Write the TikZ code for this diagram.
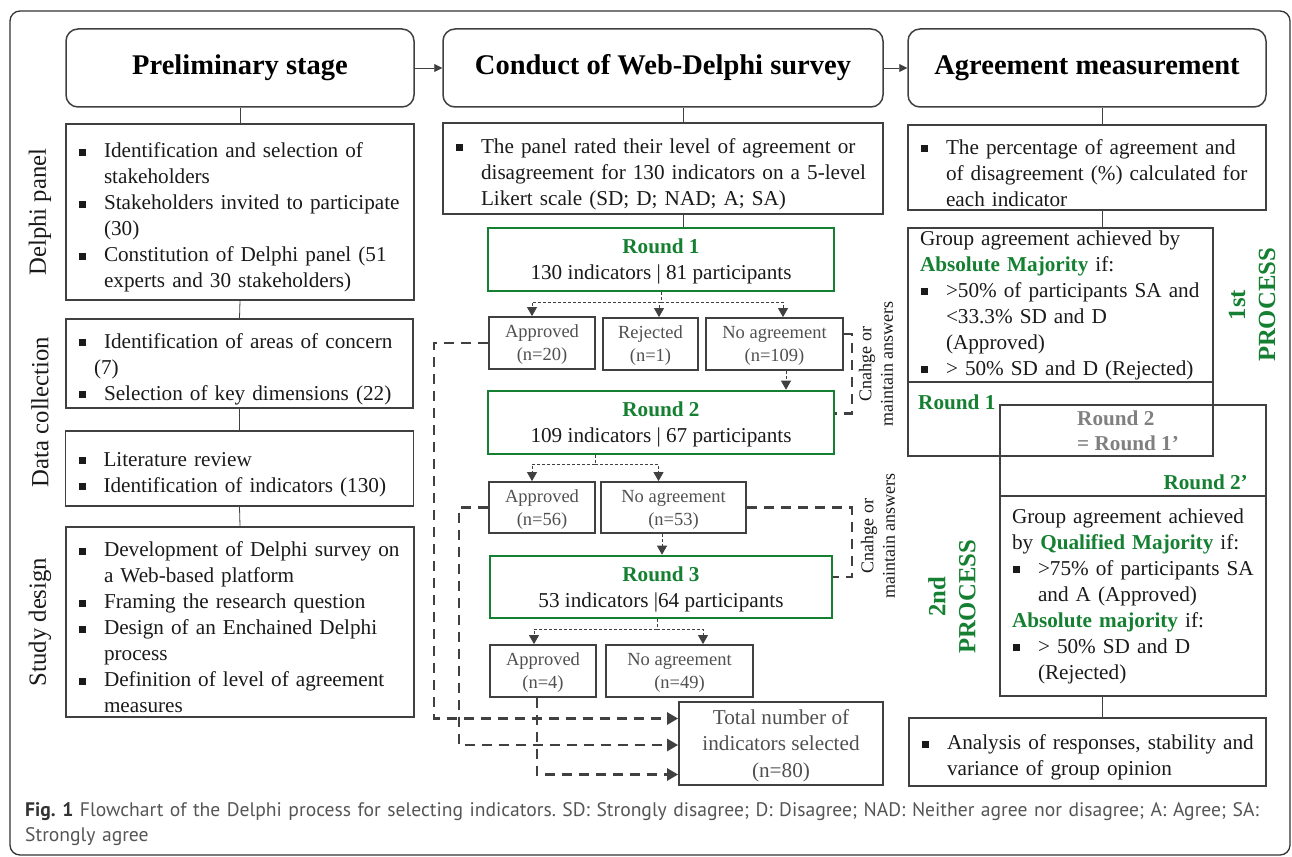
\documentclass[tikz,border=0pt]{standalone}
\usepackage{fontspec}
\setmainfont{Liberation Serif}
\newfontfamily\capfont{PT Sans}
\usetikzlibrary{arrows.meta}
\usetikzlibrary{positioning}
\setlength{\parskip}{0pt}

\definecolor{linegray}{RGB}{64,64,64}
\definecolor{txtgray}{RGB}{80,80,80}
\definecolor{softgray}{RGB}{128,128,128}
\definecolor{rndgreen}{RGB}{22,128,50}
\definecolor{capgray}{RGB}{85,85,85}
\definecolor{inkblack}{RGB}{26,26,26}

\newcommand{\itm}[1]{\par\rightskip=0pt plus 1fil minus 40pt\hyphenpenalty=10000
  \hangindent=26pt\hangafter=1\noindent
  \makebox[26pt][l]{\hspace{1pt}\rule[2pt]{7pt}{7pt}}{\let\\\break#1}\par}
\newcommand{\grn}[1]{\textcolor{rndgreen}{\textbf{#1}}}

\begin{document}
\begin{tikzpicture}[x=1pt,y=-1pt,
    head/.style={draw=linegray,line width=1.5pt,rounded corners=12pt,minimum height=78,
                 text=black,font=\fontsize{28.5}{34}\selectfont\bfseries},
    box/.style={draw=linegray,line width=1.8pt,inner xsep=12pt,inner ysep=0pt,align=left,
                text=inkblack,font=\fontsize{21.2}{26}\selectfont},
    rnd/.style={draw=rndgreen,line width=2.6pt,align=center,text=inkblack,text depth=-2.5pt,
                font=\fontsize{21.2}{26}\selectfont},
    small/.style={draw=linegray,line width=1.8pt,align=center,text=txtgray,text depth=-2.5pt,
                  font=\fontsize{18.5}{23}\selectfont},
    side/.style={rotate=90,text=inkblack,font=\fontsize{24.7}{30}\selectfont},
    proc/.style={rotate=90,align=center,text=rndgreen,font=\fontsize{24.7}{30}\selectfont\bfseries},
    chg/.style={rotate=90,align=center,text=inkblack,font=\fontsize{18}{21.5}\selectfont},
    conn/.style={draw=linegray,line width=0.8pt},
    tip/.style={-{Triangle[length=9pt,width=10pt]}},
    tdash/.style={draw=linegray,line width=0.8pt,dash pattern=on 3pt off 2pt},
    kdash/.style={draw=linegray,line width=2.6pt,dash pattern=on 10pt off 7pt,
                  -{Triangle[length=11pt,width=12pt]}}]
\useasboundingbox (0,0) rectangle (1292,856);
\draw[draw=black!80,line width=1.3pt,rounded corners=10pt] (10,11) rectangle (1290,855);

% stage headers
\node[head,minimum width=348] (hprelim) at (240,68) {Preliminary stage};
\node[head,minimum width=440] (hsurvey) at (663,68) {Conduct of Web-Delphi survey};
\node[head,minimum width=358] (hagree) at (1087,68) {Agreement measurement};
\draw[conn,-{Triangle[length=8pt,width=8pt]}] (hprelim.east) -- (hsurvey.west);
\draw[conn,-{Triangle[length=8pt,width=8pt]}] (hsurvey.east) -- (hagree.west);

% preliminary stage
\node[box,text width=324,minimum height=176] (panel) at (240,212) {%
  \itm{Identification and selection of\\stakeholders}
  \itm{Stakeholders invited to participate\\(30)}
  \itm{Constitution of Delphi panel (51\\experts and 30 stakeholders)}};
\node[box,text width=323,minimum height=89] (areas) at (239.5,363.5) {%
  \itm{Identification of areas of concern\\\hspace*{-10pt}(7)}
  \itm{Selection of key dimensions (22)}};
\node[box,text width=324,minimum height=75] (review) at (239.5,468.5) {%
  \itm{Literature review}
  \itm{Identification of indicators (130)}};
\node[box,text width=324,minimum height=190] (design) at (240,622) {%
  \itm{Development of Delphi survey on\\a Web-based platform}
  \itm{Framing the research question}
  \itm{Design of an Enchained Delphi\\process}
  \itm{Definition of level of agreement\\measures}};
\node[side] (lpanel) at (40,212) {Delphi panel};
\node[side] (lcollect) at (40,412) {Data collection};
\node[side] (ldesign) at (40,622) {Study design};
\draw[conn] (hprelim.south) -- (panel.north);
\draw[conn] (panel.south) -- (areas.north);
\draw[conn] (areas.south) -- (review.north);
\draw[conn] (review.south) -- (design.north);

% web-delphi survey
\node[box,text width=416,minimum height=91] (survey) at (663,168.5) {%
  \itm{The panel rated their level of agreement or\\disagreement for 130 indicators on a 5-level\\Likert scale (SD; D; NAD; A; SA)}};
\node[rnd,minimum width=346,minimum height=63] (r1) at (661,259.5)
  {\grn{Round 1}\\130 indicators | 81 participants};
\node[small,minimum width=106,minimum height=52] (app1) at (542,343) {Approved\\(n=20)};
\node[small,minimum width=95,minimum height=52] (rej1) at (650.5,344) {Rejected\\(n=1)};
\node[small,minimum width=137,minimum height=52] (noa1) at (774.5,344) {No agreement\\(n=109)};
\node[rnd,minimum width=346,minimum height=63] (r2) at (661,422.5)
  {\grn{Round 2}\\109 indicators | 67 participants};
\node[small,minimum width=106,minimum height=51] (app2) at (542,507.5) {Approved\\(n=56)};
\node[small,minimum width=145,minimum height=51] (noa2) at (673.5,507.5) {No agreement\\(n=53)};
\node[rnd,minimum width=342,minimum height=62] (r3) at (661,587)
  {\grn{Round 3}\\53 indicators |64 participants};
\node[small,minimum width=106,minimum height=52] (app3) at (543,671) {Approved\\(n=4)};
\node[small,minimum width=147,minimum height=52] (noa3) at (679.5,671) {No agreement\\(n=49)};
\node[small,minimum width=204,minimum height=83,font=\fontsize{21.2}{26.5}\selectfont] (total) at (781,743.5)
  {Total number of\\indicators selected\\(n=80)};
\node[chg] (chg1) at (876,364) {Cnahge or\\maintain answers};
\node[chg] (chg2) at (878,536) {Cnahge or\\maintain answers};

\draw[conn] ([xshift=20pt]hsurvey.south) -- ([xshift=20pt]survey.north);
\draw[conn] ([xshift=20pt]survey.south) -- ([xshift=22pt]r1.north);
\draw[tdash] (r1.south) -- ++(0,10) coordinate (bus1);
\draw[tdash,tip] (bus1) -| ([xshift=-10pt]app1.north);
\draw[tdash,tip] (bus1) -| ([xshift=8.5pt]rej1.north);
\draw[tdash,tip] (bus1) -| ([xshift=8.5pt]noa1.north);
\draw[tdash,tip] ([xshift=11.5pt]noa1.south) -- ([xshift=125pt]r2.north);
\draw[tdash] ([xshift=-66pt]r2.south) -- ++(0,9) coordinate (bus2);
\draw[tdash,tip] (bus2) -| ([xshift=-10pt]app2.north);
\draw[tdash,tip] (bus2) -| ([xshift=-15pt]noa2.north);
\draw[tdash,tip] ([xshift=-11.5pt]noa2.south) -- ([xshift=1pt]r3.north);
\draw[tdash] ([xshift=-4pt]r3.south) -- ++(0,10) coordinate (bus3);
\draw[tdash,tip] (bus3) -| ([xshift=-9pt]app3.north);
\draw[tdash,tip] (bus3) -| ([xshift=23.5pt]noa3.north);
\draw[kdash,-] ([yshift=10pt]noa1.east) -- ++(8,0) |- ([yshift=9pt]r2.east);
\draw[kdash,-] (noa2.east) -- ++(105,0) |- ([yshift=10pt]r3.east);
\draw[kdash] (app1.west) -- ++(-54,0) |- ([yshift=25pt]total.west);
\draw[kdash] (app2.west) -- ++(-29,0) |- ([yshift=-1.5pt]total.west);
\draw[kdash] ([xshift=-6pt]app3.south) |- ([yshift=-31pt]total.west);

% agreement measurement
\node[box,text width=334,minimum height=85] (pct) at (1087,167.5) {%
  \itm{The percentage of agreement and\\of disagreement (\%) calculated for\\each indicator}};
\node[box,text width=281,minimum height=154] (p1top) at (1060.5,305) {%
  Group agreement achieved by\break\grn{Absolute Majority} if:
  \itm{>50\% of participants SA and\\<33.3\% SD and D\\(Approved)}
  \itm{> 50\% SD and D (Rejected)}};
\node[box,minimum width=305,minimum height=74] (p1low) at (1060.5,419) {};
\node[anchor=west,inner sep=0pt,font=\fontsize{21.2}{26}\selectfont] (lr1) at (918,402) {\grn{Round 1}};
\node[box,minimum width=266,minimum height=91] (p2top) at (1133,450.5) {};
\node[anchor=west,inner sep=0pt,align=left,text=softgray,font=\fontsize{21.2}{25}\selectfont\bfseries] (lr2) at (1077,430.5)
  {Round 2\\= Round 1’};
\node[anchor=east,inner sep=0pt,font=\fontsize{21.2}{26}\selectfont] (lr2b) at (1248,482) {\grn{Round 2’}};
\node[box,text width=242,minimum height=200] (p2) at (1133,596) {%
  Group agreement achieved\break by \grn{Qualified Majority} if:
  \itm{>75\% of participants SA\\and A (Approved)}
  \noindent\grn{Absolute majority} if:
  \itm{> 50\% SD and D\\(Rejected)}};
\node[box,text width=333,minimum height=68] (analysis) at (1087.5,752) {%
  \itm{Analysis of responses, stability and\\variance of group opinion}};
\node[proc] (proc1) at (1252,305) {1st\\PROCESS};
\node[proc] (proc2) at (952,597) {2nd\\PROCESS};
\draw[conn] ([xshift=15pt]hagree.south) -- ([xshift=15pt]pct.north);
\draw[conn] ([xshift=15pt]pct.south) -- ([xshift=41.5pt]p1top.north);
\draw[conn] ([xshift=-31pt]p2.south) -- ([xshift=14.5pt]analysis.north);

% caption
\node[anchor=north west,inner sep=0pt,align=left,text width=1265,text=capgray,
      font=\capfont\fontsize{19.6}{25}\selectfont\frenchspacing] (cap) at (25,802)
  {\textcolor{black!80}{\textbf{Fig. 1}} Flowchart of the Delphi process for selecting indicators. SD: Strongly disagree; D: Disagree; NAD: Neither agree nor disagree; A: Agree; SA:\\Strongly agree};
\end{tikzpicture}
\end{document}
